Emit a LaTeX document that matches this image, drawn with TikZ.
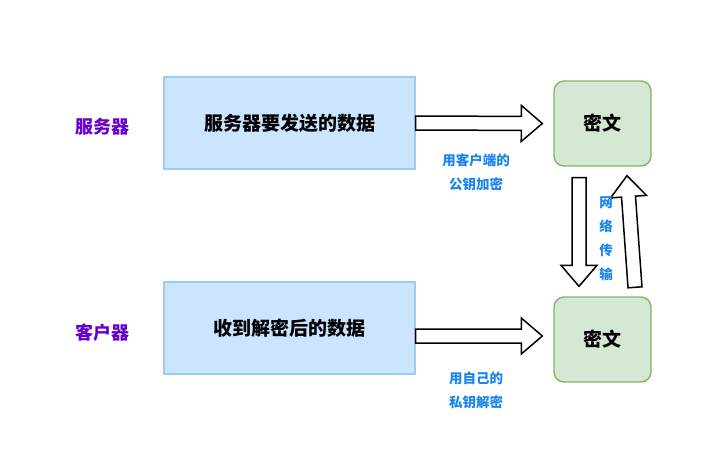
\documentclass[tikz,border=0pt]{standalone}
\usepackage{fontspec}
\newfontfamily\cjk{Noto Sans CJK SC}
\usetikzlibrary{calc}
\definecolor{databg}{HTML}{CCE5FF}
\definecolor{dataline}{HTML}{9FCBF2}
\definecolor{cipherbg}{HTML}{D5E8D4}
\definecolor{cipherline}{HTML}{82B366}
\definecolor{rolecol}{HTML}{6600CC}
\definecolor{notecol}{HTML}{1A84EC}
% hollow block arrow from #1 to #2
\newcommand{\bigarrow}[2]{%
  \draw[bigarr] ($(#1)!7pt!90:(#2)$) -- ($(#2)!21pt!(#1)!7pt!90:(#2)$)
    -- ($(#2)!21pt!(#1)!18pt!90:(#2)$) -- (#2)
    -- ($(#2)!21pt!(#1)!18pt!-90:(#2)$) -- ($(#2)!21pt!(#1)!7pt!-90:(#2)$)
    -- ($(#1)!7pt!-90:(#2)$) -- cycle;}
\begin{document}
\begin{tikzpicture}[x=1pt,y=-1pt,
  databox/.style={draw=dataline,fill=databg,line width=1.4pt,minimum width=251pt,minimum height=92pt,inner sep=0pt,font=\cjk\bfseries\fontsize{19}{22}\selectfont},
  cipherbox/.style={draw=cipherline,fill=cipherbg,line width=1.4pt,rounded corners=10pt,minimum width=97pt,minimum height=85pt,inner sep=0pt,font=\cjk\bfseries\fontsize{19}{22}\selectfont},
  role/.style={text=rolecol,font=\cjk\bfseries\fontsize{18}{22}\selectfont},
  note/.style={text=notecol,align=center,font=\cjk\bfseries\fontsize{13.5}{24}\selectfont},
  bigarr/.style={draw=black,fill=white,line width=1.5pt,line join=miter}]
  \useasboundingbox (0,0) rectangle (711,458);
  % server side
  \node[role] (server) at (102,127) {服务器};
  \node[databox] (senddata) at (289.5,123) {服务器要发送的数据};
  \node[cipherbox] (cipher1) at (602.5,123.5) {密文};
  % client side
  \node[role] (client) at (102,333) {客户器};
  \node[databox] (recvdata) at (289.5,328) {收到解密后的数据};
  \node[cipherbox] (cipher2) at (602.5,339.5) {密文};
  % arrows
  \coordinate (enc-s) at (senddata.east);
  \coordinate (enc-e) at ([xshift=-11pt]cipher1.west);
  \bigarrow{enc-s}{enc-e}
  \coordinate (dec-s) at ([yshift=-8pt]recvdata.east);
  \coordinate (dec-e) at ([xshift=-11pt,yshift=3.5pt]cipher2.west);
  \bigarrow{dec-s}{dec-e}
  \coordinate (down-s) at ([xshift=-23.5pt,yshift=-11pt]cipher1.south);
  \coordinate (down-e) at ([xshift=-23.5pt,yshift=10pt]cipher2.north);
  \bigarrow{down-s}{down-e}
  \coordinate (up-s) at ([xshift=32.5pt,yshift=9pt]cipher2.north);
  \coordinate (up-e) at ([xshift=24.5pt,yshift=-9pt]cipher1.south);
  \bigarrow{up-s}{up-e}
  % labels
  \node[note] (enc-note) at (476,172) {用客户端的\\公钥加密};
  \node[note] (dec-note) at (476,390) {用自己的\\私钥解密};
  \node[note] (net-note) at (606,239) {网\\络\\传\\输};
\end{tikzpicture}
\end{document}
